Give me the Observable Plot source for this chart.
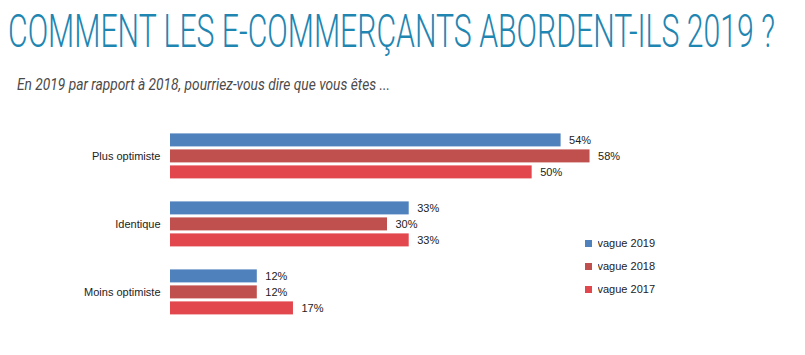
<!DOCTYPE html>
<html><head><meta charset="utf-8">
<script src="https://cdn.jsdelivr.net/npm/d3@7"></script>
<script src="https://cdn.jsdelivr.net/npm/@observablehq/plot@0.6"></script>
<style>
html,body{margin:0;padding:0;background:#fff;}
#wrap{position:relative;width:805px;height:355px;overflow:hidden;}
#title{position:absolute;left:8px;top:8px;font-family:Roboto,sans-serif;font-weight:300;font-size:46px;line-height:46px;color:#1f86b2;white-space:nowrap;transform-origin:0 0;}
#subtitle{position:absolute;left:17px;top:76px;font-family:Roboto,sans-serif;font-style:italic;font-weight:400;font-size:17px;line-height:17px;color:#4a4a4a;white-space:nowrap;transform-origin:0 0;}
#chart{position:absolute;left:0;top:105px;}
#legend{position:absolute;left:585px;top:237px;font-family:"Liberation Sans",Arial,sans-serif;font-size:11px;color:#222;}
#legend .lg-swatch{margin-bottom:10px;}
</style></head><body>
<div id="wrap">
<div id="title">COMMENT LES E-COMMERÇANTS ABORDENT-ILS 2019 ?</div>
<div id="subtitle">En 2019 par rapport à 2018, pourriez-vous dire que vous êtes ...</div>
<div id="chart"></div>
<div id="legend"></div>
</div>
<script>
const categories = ["Plus optimiste", "Identique", "Moins optimiste"];
const waves = ["vague 2019", "vague 2018", "vague 2017"];
const values2019 = [54, 33, 12];
const values2018 = [58, 30, 12];
const values2017 = [50, 33, 17];
const colors = ["#4F81BD", "#C0504D", "#E2474D"];

const series = [values2019, values2018, values2017];
const data = categories.flatMap((c, i) => waves.map((w, j) => ({category: c, wave: w, value: series[j][i]})));

function fit(id, target) {
  const el = document.getElementById(id);
  const w = el.getBoundingClientRect().width;
  el.style.transform = `scaleX(${target / w})`;
}
fit("title", 767);
fit("subtitle", 373);

const chart = Plot.plot({
  width: 805,
  height: 250,
  marginLeft: 170,
  marginRight: 201,
  marginTop: 15.6,
  marginBottom: 28.15,
  facet: {marginTop: 0, marginBottom: 0, marginLeft: 0, marginRight: 0},
  x: {axis: null, domain: [0, 60]},
  y: {axis: null, domain: waves, paddingInner: 0.18, paddingOuter: 0.09},
  fy: {domain: categories, paddingInner: 0.28, paddingOuter: 0.14, axis: "left", label: null, tickSize: 0, tickPadding: 10},
  color: {domain: waves, range: colors},
  style: {fontFamily: "'Liberation Sans', Arial, sans-serif", fontSize: "11px", color: "#222", background: "transparent"},
  marks: [
    Plot.barX(data, {fy: "category", y: "wave", x: "value", fill: "wave"}),
    Plot.text(data, {fy: "category", y: "wave", x: "value", text: d => d.value + "%", textAnchor: "start", dx: 8, fontSize: 11, fill: "#222"})
  ]
});
document.getElementById("chart").appendChild(chart);

const legend = Plot.legend({
  color: {domain: waves, range: colors},
  legend: "swatches",
  columns: 1,
  swatchSize: 7,
  className: "lg",
  style: {fontFamily: "'Liberation Sans', Arial, sans-serif", fontSize: "11px", color: "#222"}
});
document.getElementById("legend").appendChild(legend);
</script>
</body></html>
